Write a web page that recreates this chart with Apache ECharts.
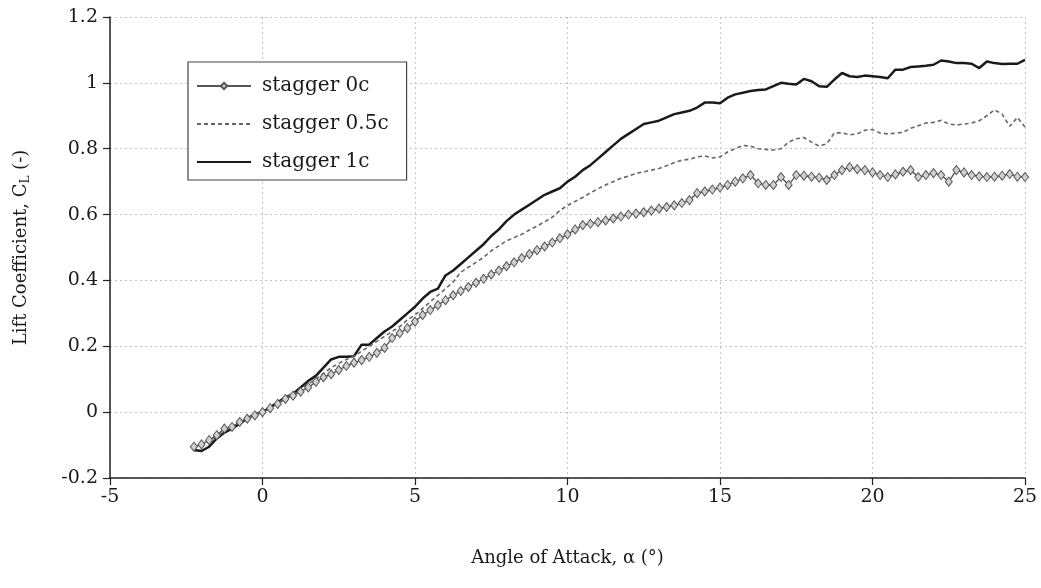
<!DOCTYPE html>
<html>
<head>
<meta charset="utf-8">
<script src="https://cdn.jsdelivr.net/npm/echarts@6/dist/echarts.min.js"></script>
<style>
html,body{margin:0;padding:0;background:#fff;}
#chart{width:1041px;height:588px;}
</style>
</head>
<body>
<div id="chart"></div>
<script>
const seriesNames = ['stagger 0c', 'stagger 0.5c', 'stagger 1c'];
const xTicks = [-5, 0, 5, 10, 15, 20, 25];
const yTicks = [-0.2, 0, 0.2, 0.4, 0.6, 0.8, 1, 1.2];

const angles = [
 -2.25,-2.0,-1.75,-1.5,-1.25,-1.0,-0.75,-0.5,-0.25,0,
 0.25,0.5,0.75,1.0,1.25,1.5,1.75,2.0,2.25,2.5,
 2.75,3.0,3.25,3.5,3.75,4.0,4.25,4.5,4.75,5.0,
 5.25,5.5,5.75,6.0,6.25,6.5,6.75,7.0,7.25,7.5,
 7.75,8.0,8.25,8.5,8.75,9.0,9.25,9.5,9.75,10.0,
 10.25,10.5,10.75,11.0,11.25,11.5,11.75,12.0,12.25,12.5,
 12.75,13.0,13.25,13.5,13.75,14.0,14.25,14.5,14.75,15.0,
 15.25,15.5,15.75,16.0,16.25,16.5,16.75,17.0,17.25,17.5,
 17.75,18.0,18.25,18.5,18.75,19.0,19.25,19.5,19.75,20.0,
 20.25,20.5,20.75,21.0,21.25,21.5,21.75,22.0,22.25,22.5,
 22.75,23.0,23.25,23.5,23.75,24.0,24.25,24.5,24.75,25.0
];

const cl0c = [
 -0.105,-0.098,-0.085,-0.07,-0.05,-0.045,-0.03,-0.02,-0.01,0.0,
 0.012,0.025,0.04,0.05,0.062,0.075,0.092,0.106,0.115,0.128,
 0.14,0.15,0.158,0.168,0.18,0.195,0.225,0.24,0.255,0.275,
 0.295,0.31,0.325,0.34,0.355,0.368,0.38,0.393,0.405,0.418,
 0.43,0.443,0.455,0.468,0.48,0.492,0.503,0.515,0.528,0.54,
 0.555,0.568,0.572,0.577,0.582,0.588,0.594,0.6,0.603,0.607,
 0.612,0.618,0.623,0.628,0.635,0.644,0.665,0.67,0.676,0.682,
 0.69,0.7,0.71,0.72,0.695,0.69,0.69,0.714,0.69,0.72,
 0.718,0.715,0.712,0.705,0.72,0.735,0.744,0.738,0.735,0.728,
 0.72,0.714,0.722,0.73,0.735,0.714,0.72,0.726,0.72,0.7,
 0.735,0.728,0.72,0.716,0.714,0.715,0.718,0.723,0.715,0.714
];

const cl05c = [
 -0.105,-0.1,-0.09,-0.075,-0.058,-0.045,-0.03,-0.018,-0.006,0.003,
 0.015,0.028,0.042,0.055,0.07,0.085,0.1,0.118,0.135,0.148,
 0.16,0.17,0.185,0.2,0.215,0.23,0.245,0.26,0.28,0.295,
 0.315,0.335,0.355,0.375,0.395,0.425,0.44,0.455,0.47,0.49,
 0.505,0.52,0.53,0.54,0.553,0.565,0.578,0.592,0.612,0.628,
 0.64,0.652,0.666,0.678,0.69,0.7,0.71,0.717,0.725,0.73,
 0.735,0.74,0.748,0.758,0.765,0.768,0.775,0.778,0.772,0.775,
 0.79,0.8,0.81,0.808,0.8,0.798,0.796,0.8,0.82,0.83,
 0.834,0.82,0.808,0.815,0.848,0.848,0.842,0.845,0.856,0.858,
 0.848,0.845,0.847,0.85,0.862,0.87,0.878,0.88,0.886,0.875,
 0.872,0.875,0.878,0.885,0.9,0.918,0.905,0.868,0.895,0.866
];

const cl1c = [
 -0.115,-0.118,-0.105,-0.08,-0.062,-0.05,-0.035,-0.02,-0.005,0.0,
 0.015,0.03,0.045,0.055,0.075,0.095,0.11,0.135,0.16,0.168,
 0.168,0.17,0.205,0.205,0.225,0.245,0.26,0.28,0.3,0.32,
 0.345,0.365,0.375,0.415,0.43,0.45,0.47,0.49,0.51,0.535,
 0.555,0.58,0.6,0.615,0.63,0.645,0.66,0.67,0.68,0.7,
 0.715,0.735,0.75,0.77,0.79,0.81,0.83,0.845,0.86,0.875,
 0.88,0.885,0.895,0.905,0.91,0.915,0.925,0.94,0.94,0.938,
 0.955,0.965,0.97,0.975,0.978,0.98,0.99,1.0,0.997,0.995,
 1.012,1.005,0.99,0.988,1.01,1.03,1.02,1.018,1.022,1.02,
 1.018,1.014,1.04,1.04,1.048,1.05,1.052,1.055,1.068,1.065,
 1.06,1.06,1.058,1.045,1.065,1.06,1.057,1.058,1.058,1.07
];

function pairs(ys) { return angles.map((a, i) => [a, ys[i]]); }

const FONT = 'DejaVu Serif';
const TXT = '#1a1a1a';
const chart = echarts.init(document.getElementById('chart'), null, {renderer: 'canvas'});
chart.setOption({
  backgroundColor: '#ffffff',
  animation: false,
  grid: {left: 110, right: 16, top: 17, bottom: 110, containLabel: false},
  legend: {
    orient: 'vertical',
    left: 188, top: 62,
    data: [
      {name: seriesNames[0]},
      {name: seriesNames[1], itemStyle: {opacity: 0}},
      {name: seriesNames[2], itemStyle: {opacity: 0}}
    ],
    itemWidth: 54, itemHeight: 8, itemGap: 18,
    padding: [14, 18, 8, 8],
    borderColor: '#444', borderWidth: 1.2,
    backgroundColor: '#fff',
    textStyle: {fontFamily: FONT, fontSize: 20, color: TXT, padding: [0, 0, 0, 6]}
  },
  xAxis: {
    type: 'value', min: xTicks[0], max: xTicks[xTicks.length - 1], interval: 5,
    name: 'Angle of Attack, α (°)', nameLocation: 'middle', nameGap: 71,
    nameTextStyle: {fontFamily: FONT, fontSize: 18, color: TXT},
    axisLine: {onZero: false, lineStyle: {color: '#222', width: 1.5}},
    axisTick: {show: true, inside: false, length: 7, lineStyle: {color: '#222', width: 1.2}},
    axisLabel: {fontFamily: FONT, fontSize: 19, color: TXT, margin: 10},
    splitLine: {show: true, lineStyle: {color: '#c4c4c4', width: 1, type: [2, 3]}}
  },
  yAxis: {
    type: 'value', min: yTicks[0], max: yTicks[yTicks.length - 1], interval: 0.2,
    name: 'Lift Coefficient, C{sub|L} (-)', nameLocation: 'middle', nameGap: 78,
    nameTextStyle: {fontFamily: FONT, fontSize: 18, color: TXT, lineHeight: 21,
      rich: {sub: {fontFamily: FONT, fontSize: 12, lineHeight: 12, verticalAlign: 'bottom', color: TXT}}},
    axisLine: {show: true, onZero: false, lineStyle: {color: '#222', width: 1.5}},
    axisTick: {show: true, inside: false, length: 7, lineStyle: {color: '#222', width: 1.2}},
    axisLabel: {fontFamily: FONT, fontSize: 19, color: TXT, margin: 12,
      formatter: v => String(Math.round(v * 10) / 10)},
    splitLine: {show: true, lineStyle: {color: '#c4c4c4', width: 1, type: [2, 3]}}
  },
  series: [
    {
      name: seriesNames[2], type: 'line', data: pairs(cl1c), showSymbol: false, symbol: 'none',
      lineStyle: {color: '#1a1a1a', width: 2.5}, itemStyle: {color: '#1a1a1a'}, z: 2
    },
    {
      name: seriesNames[1], type: 'line', data: pairs(cl05c), showSymbol: false, symbol: 'none',
      lineStyle: {color: '#666', width: 1.6, type: [4, 3]}, itemStyle: {color: '#666'}, z: 3
    },
    {
      name: seriesNames[0], type: 'line', data: pairs(cl0c), symbol: 'diamond', symbolSize: [7, 9],
      showSymbol: true,
      lineStyle: {color: '#555', width: 1.4},
      itemStyle: {color: '#d0d0d0', borderColor: '#555', borderWidth: 1}, z: 4
    }
  ]
});
</script>
</body>
</html>
